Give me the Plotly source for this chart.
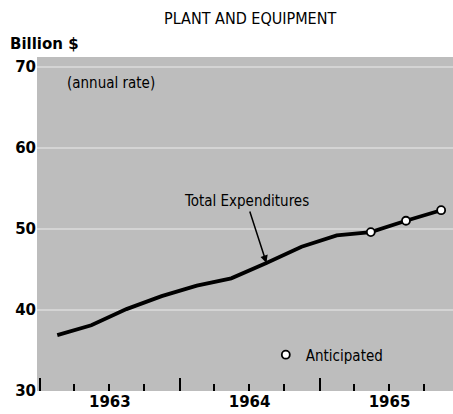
import plotly.graph_objects as go

# quarterly expenditures, plotted at mid-quarter (billion $, annual rate)
quarters = ["1963-02-15", "1963-05-15", "1963-08-15", "1963-11-15",
            "1964-02-15", "1964-05-15", "1964-08-15", "1964-11-15",
            "1965-02-15", "1965-05-15", "1965-08-15", "1965-11-15"]
expenditures = [36.9, 38.1, 40.1, 41.7, 43.0, 43.9, 45.8, 47.8, 49.2, 49.6, 51.0, 52.3]

# last three quarters are anticipated
anticipated_x = quarters[-3:]
anticipated_y = expenditures[-3:]

y_ticks = [30, 40, 50, 60, 70]

bold = dict(family="DejaVu Sans", size=15, color="black", weight="bold")
narrow = "DejaVu Sans Condensed, Liberation Sans Narrow, sans-serif"

fig = go.Figure()

fig.add_trace(go.Scatter(
    x=quarters, y=expenditures,
    mode="lines",
    line=dict(color="black", width=3.8),
    showlegend=False,
    hoverinfo="skip"))

fig.add_trace(go.Scatter(
    x=anticipated_x, y=anticipated_y,
    mode="markers",
    name="Anticipated",
    marker=dict(symbol="circle", size=8, color="white",
                line=dict(color="black", width=1.8)),
    showlegend=True))

# pointer to the curve
fig.add_annotation(
    x=quarters[6], y=expenditures[6],
    text="Total Expenditures",
    showarrow=True, arrowhead=2, arrowsize=1, arrowwidth=1.5,
    arrowcolor="black",
    ax=-20, ay=-62,
    font=dict(family=narrow, size=15, color="black"))

fig.add_annotation(
    xref="paper", yref="paper", x=0.067, y=0.922,
    text="(annual rate)", showarrow=False,
    xanchor="left", yanchor="middle",
    font=dict(family=narrow, size=15, color="black"))

fig.add_annotation(
    xref="paper", yref="paper", x=0.512, y=1.0, yshift=39,
    text="PLANT AND EQUIPMENT", showarrow=False,
    xanchor="center", yanchor="middle",
    font=dict(family=narrow, size=16, color="black"))

fig.add_annotation(
    xref="paper", yref="paper", x=-0.07, y=1.0, yshift=13,
    text="Billion $", showarrow=False,
    xanchor="left", yanchor="middle",
    font=bold)

fig.update_layout(
    width=453, height=414,
    margin=dict(l=37, r=0, t=57, b=23),
    paper_bgcolor="white",
    plot_bgcolor="#bdbdbd",
    legend=dict(x=0.55, y=0.108, xanchor="left", yanchor="middle",
                bgcolor="rgba(0,0,0,0)", itemwidth=30,
                font=dict(family=narrow, size=15, color="black")),
)

fig.update_xaxes(
    type="date",
    range=["1962-12-24", "1965-12-16"],
    dtick="M12", tick0="1963-01-01",
    ticklabelmode="period", tickformat="%Y",
    ticks="inside", ticklen=13, tickwidth=2, tickcolor="black",
    minor=dict(dtick="M3", ticks="inside", ticklen=7, tickwidth=1.5,
               tickcolor="black", showgrid=False),
    showgrid=False, zeroline=False, showline=False,
    automargin=False,
    tickfont=bold)

fig.update_yaxes(
    range=[30, 71.2],
    tickvals=y_ticks,
    ticks="", showline=False, zeroline=False,
    showgrid=True, gridcolor="rgba(255,255,255,0.35)", gridwidth=1.5,
    automargin=False,
    tickfont=bold)

# drop the default body margin so the figure fills the window
fig.write_html("out.html",
               config={"displayModeBar": False},
               post_script="document.body.style.margin='0';"
                           "document.body.style.overflow='hidden';")
